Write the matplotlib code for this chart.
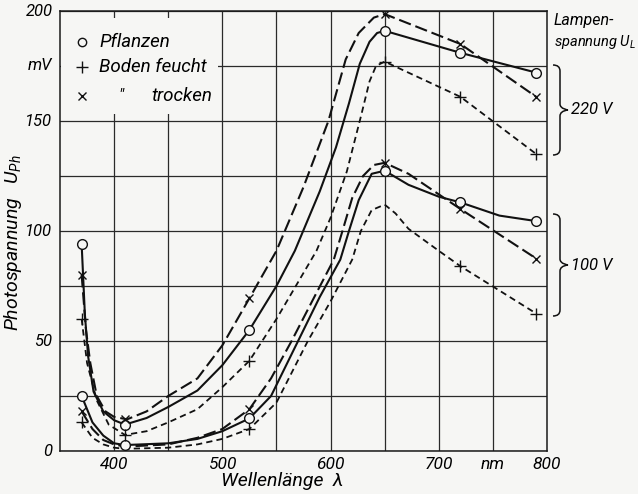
import matplotlib
matplotlib.use("Agg")
import matplotlib.pyplot as plt
from matplotlib.path import Path
from matplotlib.patches import PathPatch, Rectangle
import numpy as np

plt.rcParams['font.family'] = ['Roboto', 'DejaVu Sans']
plt.rcParams['font.style'] = 'italic'
plt.rcParams['mathtext.fontset'] = 'custom'
plt.rcParams['mathtext.it'] = 'Roboto:italic'
plt.rcParams['mathtext.rm'] = 'Roboto:italic'
plt.rcParams['mathtext.default'] = 'it'
plt.rcParams['lines.scale_dashes'] = False

# ---- data: measured points (markers) ----
wl_pts = [370, 410, 525, 650, 720, 790]
p220_pts = [94, 12, 55, 191, 181, 172]
f220_pts = [60, 7.3, 41, 177, 161, 135]
t220_pts = [80, 14.4, 69.4, 198.6, 185, 161]
p100_pts = [25, 2.7, 14.8, 127.4, 113, 104.5]
f100_pts = [13, np.nan, 10, np.nan, 84, 62.5]
t100_pts = [18, np.nan, 19, 131, 110, 87.5]

# ---- data: curve traces ----
p220_wl = [370, 373, 376, 381, 390, 400, 410, 430, 450, 477, 500, 525, 550, 567, 590, 605, 617, 627, 636, 643, 650, 720, 790]
p220_v = [94, 62, 43, 27, 18, 14, 12, 15, 20, 27.5, 39, 55, 75, 91, 118, 138, 158, 176, 186, 190, 191, 181, 172]

t220_wl = [370, 374, 378, 384, 392, 400, 412, 430, 450, 477, 500, 525, 550, 575, 598, 614, 626, 640, 650, 720, 790]
t220_v = [80, 55, 40, 25, 18, 15.5, 14.4, 18, 25, 33, 48, 69.4, 91, 120, 150, 178, 190, 197, 198.6, 185, 161]

f220_wl = [370, 375, 384, 395, 410, 430, 450, 477, 500, 525, 550, 587, 600, 615, 628, 636, 642, 650, 720, 790]
f220_v = [60, 40, 23, 12, 7.3, 9, 13, 19, 29, 41, 60, 91, 106, 127, 152, 168, 175, 177, 161, 135]

p100_wl = [370, 380, 390, 400, 410, 450, 477, 500, 525, 545, 570, 590, 609, 617, 626, 638, 650, 672, 700, 720, 756, 790]
p100_v = [25, 13, 7, 3.5, 2.7, 3.5, 5.5, 9, 14.8, 25, 50, 70, 87, 100, 114, 126, 127.4, 121, 115.6, 113, 107, 104.5]

t100_wl = [370, 380, 390, 400, 410, 450, 477, 500, 525, 545, 564, 585, 603, 611, 620, 630, 640, 650, 672, 720, 790]
t100_v = [18, 10, 5, 3, 2, 3, 6, 10, 19, 33, 50, 70, 87, 100, 115, 125, 130, 131, 126, 110, 87.5]

f100_wl = [370, 380, 390, 400, 410, 450, 477, 500, 525, 550, 579, 600, 620, 628, 638, 650, 660, 672, 700, 720, 790]
f100_v = [13, 6, 3, 1.5, 1, 1.5, 3, 5.5, 10, 22, 50, 68, 87, 100, 109.5, 112, 108, 101, 91, 84, 62.5]

x_ticks = [400, 500, 600, 700, 750, 800]
x_ticklabels = ['400', '500', '600', '700', 'nm', '800']
y_ticks = [0, 50, 100, 150, 175, 200]
y_ticklabels = ['0', '50', '100', '150', 'mV', '200']

W, H = 638, 494
fig = plt.figure(figsize=(W / 100, H / 100), dpi=100)
bg = '#f6f6f4'
fig.patch.set_facecolor(bg)
ax = fig.add_axes([60 / W, 1 - 451 / H, (547 - 60) / W, (451 - 11) / H])
ax.set_facecolor(bg)
ax.set_xlim(350, 800)
ax.set_ylim(0, 200)
ax.set_xticks(np.arange(400, 800, 50))
ax.set_yticks(np.arange(0, 201, 25))
ax.grid(True, color='#2a2a2a', lw=0.9)
ax.set_axisbelow(True)
ax.tick_params(length=0)
ax.set_xticklabels([])
ax.set_yticklabels([])
for s in ax.spines.values():
    s.set_color('#1a1a1a')
    s.set_linewidth(1.1)

for v, lab in zip(x_ticks, x_ticklabels):
    ax.text(v, -6.0, lab, ha='center', va='center', fontsize=12.5)
for v, lab in zip(y_ticks, y_ticklabels):
    ax.text(343, v, lab, ha='right', va='center', fontsize=12)

ax.text(555, -13.8, 'Wellenlänge  λ', ha='center', va='center', fontsize=14)
fig.text(13 / W, 1 - 243 / H, r'Photospannung   $U_{Ph}$', rotation=90, ha='center', va='center', fontsize=14)

lw = 1.5
ls_long = (0, (9, 3.5))
ls_short = (0, (4.5, 3.0))
col = '#111111'
ax.plot(p220_wl, p220_v, color=col, lw=lw, zorder=3)
ax.plot(t220_wl, t220_v, color=col, lw=lw, ls=ls_long, zorder=3)
ax.plot(f220_wl, f220_v, color=col, lw=1.3, ls=ls_short, zorder=3)
ax.plot(p100_wl, p100_v, color=col, lw=lw, zorder=3)
ax.plot(t100_wl, t100_v, color=col, lw=lw, ls=ls_long, zorder=3)
ax.plot(f100_wl, f100_v, color=col, lw=1.3, ls=ls_short, zorder=3)

for pts in (p220_pts, p100_pts):
    ax.plot(wl_pts, pts, ls='none', marker='o', ms=7, mfc=bg, mec=col, mew=1.0, zorder=4)
for pts in (f220_pts, f100_pts):
    ax.plot(wl_pts, pts, ls='none', marker='+', ms=8, mec=col, mew=1.0, zorder=4)
for pts in (t220_pts, t100_pts):
    ax.plot(wl_pts, pts, ls='none', marker='x', ms=6, mec=col, mew=1.0, zorder=4)

# legend block
ax.add_patch(Rectangle((351, 153), 145, 44, facecolor=bg, edgecolor='none', zorder=1))
ax.plot([370], [186], ls='none', marker='o', ms=6, mfc=bg, mec=col, mew=1.0, zorder=4)
ax.plot([370], [174.5], ls='none', marker='+', ms=8, mec=col, mew=1.0, zorder=4)
ax.plot([370], [161.5], ls='none', marker='x', ms=6, mec=col, mew=1.0, zorder=4)
ax.text(386, 186, 'Pflanzen', fontsize=13.5, va='center', ha='left')
ax.text(386, 174.5, 'Boden feucht', fontsize=13.5, va='center', ha='left')
ax.text(404, 161.5, '"', fontsize=12, va='center', ha='left')
ax.text(434, 161.5, 'trocken', fontsize=13.5, va='center', ha='left')

# right annotations
fig.text(554 / W, 1 - 21 / H, 'Lampen-', fontsize=11.5, va='center', ha='left')
fig.text(554 / W, 1 - 42 / H, r'spannung $U_L$', fontsize=10.5, va='center', ha='left')


def brace(top, bot, x0=553, depth=15):
    mid = (top + bot) / 2
    xl = x0 + 7
    verts = [(x0, top), (xl, top), (xl, top + 6),
             (xl, mid - 6),
             (xl, mid - 1), (x0 + depth, mid), (x0 + depth, mid),
             (xl, mid + 1), (xl, mid + 6),
             (xl, bot - 6),
             (xl, bot), (x0, bot)]
    codes = [Path.MOVETO, Path.CURVE3, Path.CURVE3,
             Path.LINETO,
             Path.CURVE4, Path.CURVE4, Path.CURVE4,
             Path.CURVE3, Path.CURVE3,
             Path.LINETO,
             Path.CURVE3, Path.CURVE3]
    verts = [(vx / W, 1 - vy / H) for vx, vy in verts]
    fig.patches.append(PathPatch(Path(verts, codes), transform=fig.transFigure,
                                 fill=False, lw=1.1, edgecolor=col))
    return mid


m1 = brace(65, 155)
m2 = brace(214, 316)
fig.text(571 / W, 1 - m1 / H, '220 V', fontsize=12, va='center', ha='left')
fig.text(571 / W, 1 - m2 / H, '100 V', fontsize=12, va='center', ha='left')

fig.savefig('out.png', dpi=100, facecolor=bg)
